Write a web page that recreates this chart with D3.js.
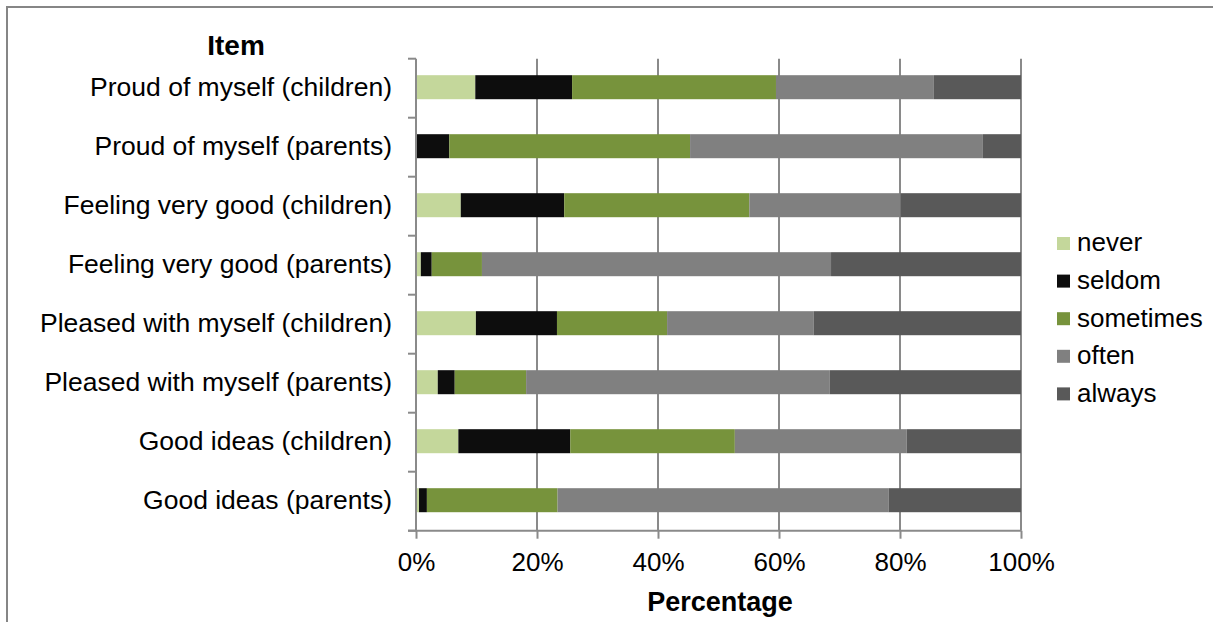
<!DOCTYPE html>
<html>
<head>
<meta charset="utf-8">
<script src="https://cdn.jsdelivr.net/npm/d3@7"></script>
<style>
  html, body { margin: 0; padding: 0; background: #fff; }
  svg { display: block; font-family: "Liberation Sans", Arial, sans-serif; }
</style>
</head>
<body>
<svg id="chart" width="1213" height="622"></svg>
<script>
const categories = [
  "Proud of myself (children)",
  "Proud of myself (parents)",
  "Feeling very good (children)",
  "Feeling very good (parents)",
  "Pleased with myself (children)",
  "Pleased with myself (parents)",
  "Good ideas (children)",
  "Good ideas (parents)"
];
const seriesNames = ["never", "seldom", "sometimes", "often", "always"];
const never     = [9.8, 0.0, 7.4, 0.8, 9.9, 3.6, 7.0, 0.5];
const seldom    = [16.0, 5.5, 17.1, 1.8, 13.4, 2.8, 18.5, 1.3];
const sometimes = [33.7, 39.8, 30.6, 8.3, 18.2, 11.8, 27.2, 21.6];
const often     = [26.1, 48.4, 25.0, 57.7, 24.2, 50.2, 28.4, 54.7];
const always    = [14.4, 6.3, 19.9, 31.4, 34.3, 31.6, 18.9, 21.9];
const tickValues = [0, 20, 40, 60, 80, 100];
const colors = ["#c4d79b", "#0d0d0d", "#77933c", "#808080", "#595959"];
const yTitle = "Item";
const xTitle = "Percentage";

const seriesArrays = [never, seldom, sometimes, often, always];
const rows = categories.map((c, i) => {
  const r = { item: c };
  seriesNames.forEach((s, j) => r[s] = seriesArrays[j][i]);
  return r;
});

const svg = d3.select("#chart");
const gridColor = "#8a8a8a";
const plotTop = 58.7, plotBottom = 530.7;

// outer frame
svg.append("rect")
  .attr("x", 7).attr("y", 7)
  .attr("width", 1300).attr("height", 700)
  .attr("fill", "none").attr("stroke", "#868686").attr("stroke-width", 2);

const x = d3.scaleLinear().domain([0, 100]).range([416, 1021]);
const y = d3.scaleBand().domain(categories).range([plotTop, plotBottom])
  .paddingInner(0.593).paddingOuter(0.2965);

const stacked = d3.stack().keys(seriesNames)(rows);
const color = d3.scaleOrdinal().domain(seriesNames).range(colors);

// gridlines
svg.append("g")
  .selectAll("line")
  .data(tickValues.filter(v => v > 0))
  .join("line")
  .attr("x1", d => x(d)).attr("x2", d => x(d))
  .attr("y1", plotTop).attr("y2", plotBottom)
  .attr("stroke", gridColor).attr("stroke-width", 2);

// bars
svg.append("g")
  .selectAll("g")
  .data(stacked)
  .join("g")
  .attr("fill", d => color(d.key))
  .selectAll("rect")
  .data(d => d)
  .join("rect")
  .attr("x", d => x(d[0]))
  .attr("width", d => Math.max(0, x(d[1]) - x(d[0])))
  .attr("y", d => y(d.data.item) - 1)
  .attr("height", y.bandwidth());

// x axis
const xAxis = svg.append("g")
  .attr("transform", `translate(0,${plotBottom})`)
  .call(d3.axisBottom(x).tickValues(tickValues).tickFormat(d => d + "%").tickSizeOuter(0).tickSize(8).tickPadding(14));
xAxis.select(".domain").remove();
xAxis.selectAll(".tick line").attr("stroke", gridColor).attr("stroke-width", 2);
xAxis.selectAll(".tick text").attr("font-size", 26).attr("fill", "#000").attr("font-family", "Liberation Sans, Arial, sans-serif").attr("dy", "0.71em");
svg.append("line")
  .attr("x1", 408).attr("x2", x(100))
  .attr("y1", plotBottom).attr("y2", plotBottom)
  .attr("stroke", gridColor).attr("stroke-width", 2);

// y axis
const yAxis = svg.append("g")
  .attr("transform", `translate(${x(0)},0)`)
  .call(d3.axisLeft(y).tickSize(0).tickPadding(24));
yAxis.select(".domain").remove();
yAxis.selectAll(".tick text").attr("font-size", 26.5).attr("fill", "#000").attr("font-family", "Liberation Sans, Arial, sans-serif").attr("dy", "0.3em");
svg.append("line")
  .attr("x1", x(0)).attr("x2", x(0))
  .attr("y1", plotTop).attr("y2", plotBottom)
  .attr("stroke", gridColor).attr("stroke-width", 2);

// y tick marks at band boundaries
const step = y.step();
const bounds = d3.range(categories.length + 1).map(i => plotTop + i * step);
svg.append("g")
  .selectAll("line")
  .data(bounds)
  .join("line")
  .attr("x1", 408).attr("x2", x(0))
  .attr("y1", d => d).attr("y2", d => d)
  .attr("stroke", gridColor).attr("stroke-width", 2);

// titles
svg.append("text")
  .attr("x", 236).attr("y", 55)
  .attr("text-anchor", "middle")
  .attr("font-size", 28).attr("font-weight", "bold")
  .text(yTitle);
svg.append("text")
  .attr("x", 720).attr("y", 611)
  .attr("text-anchor", "middle")
  .attr("font-size", 27).attr("font-weight", "bold")
  .text(xTitle);

// legend
const legend = svg.append("g")
  .selectAll("g")
  .data(seriesNames)
  .join("g")
  .attr("transform", (d, i) => `translate(1057,${243.5 + i * 37.6})`);
legend.append("rect")
  .attr("x", 0).attr("y", -6.5)
  .attr("width", 13).attr("height", 13)
  .attr("fill", d => color(d));
legend.append("text")
  .attr("x", 20).attr("y", 0)
  .attr("dy", "0.3em")
  .attr("font-size", 26)
  .attr("fill", "#000")
  .text(d => d);
</script>
</body>
</html>
